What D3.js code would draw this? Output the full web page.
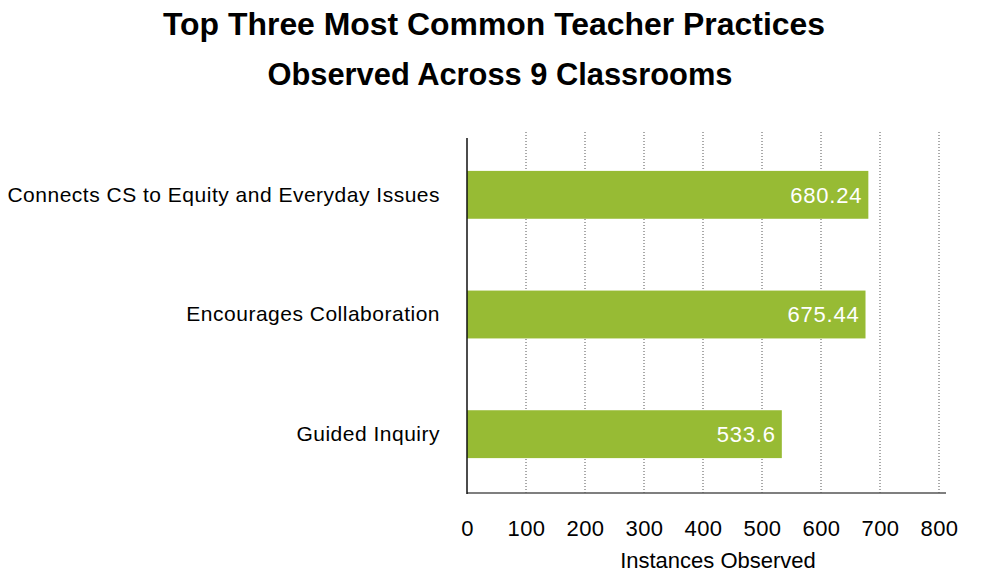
<!DOCTYPE html>
<html>
<head>
<meta charset="utf-8">
<script src="https://cdn.jsdelivr.net/npm/d3@7"></script>
<style>
  body { margin: 0; background: #fff; }
  text { font-family: "Liberation Sans", Arial, sans-serif; }
  .title { font-family: "Liberation Sans", Arial, sans-serif; font-weight: bold; }
</style>
</head>
<body>
<svg id="chart" width="989" height="581"></svg>
<script>
// chart data
var categories = ["Connects CS to Equity and Everyday Issues", "Encourages Collaboration", "Guided Inquiry"];
var values = [680.24, 675.44, 533.6];
var tickValues = [0, 100, 200, 300, 400, 500, 600, 700, 800];
var titleLines = ["Top Three Most Common Teacher Practices", "Observed Across 9 Classrooms"];
var xTitle = "Instances Observed";

var svg = d3.select("#chart");

var x = d3.scaleLinear().domain([0, 800]).range([467, 939]);
var y = d3.scaleBand()
  .domain(categories)
  .range([135, 494])
  .paddingInner(0.6)
  .paddingOuter(0.3);

// title, squeezed to look like the condensed face of the original
var titleX = [494, 500];
var titleW = [662, 465];
svg.selectAll(".title")
  .data(titleLines)
  .enter()
  .append("text")
  .attr("class", "title")
  .attr("x", function (d, i) { return titleX[i]; })
  .attr("y", function (d, i) { return 35 + i * 50; })
  .attr("text-anchor", "middle")
  .attr("font-size", 32)
  .attr("textLength", function (d, i) { return titleW[i]; })
  .attr("lengthAdjust", "spacingAndGlyphs")
  .attr("fill", "#000")
  .text(function (d) { return d; });

// dotted grid lines
svg.append("g")
  .selectAll("line")
  .data(tickValues.slice(1))
  .enter()
  .append("line")
  .attr("x1", function (d) { return x(d); })
  .attr("x2", function (d) { return x(d); })
  .attr("y1", 132)
  .attr("y2", 493)
  .attr("stroke", "#555")
  .attr("stroke-width", 1)
  .attr("stroke-dasharray", "1,2");

// bars
svg.append("g")
  .selectAll("rect")
  .data(values)
  .enter()
  .append("rect")
  .attr("x", x(0))
  .attr("y", function (d, i) { return y(categories[i]); })
  .attr("width", function (d) { return x(d) - x(0); })
  .attr("height", y.bandwidth())
  .attr("fill", "#97bb34");

// value labels inside bars
svg.append("g")
  .selectAll("text")
  .data(values)
  .enter()
  .append("text")
  .attr("x", function (d) { return x(d) - 6; })
  .attr("y", function (d, i) { return y(categories[i]) + y.bandwidth() / 2; })
  .attr("dy", "0.36em")
  .attr("text-anchor", "end")
  .attr("font-size", 22)
  .attr("letter-spacing", 0.8)
  .attr("fill", "#fff")
  .text(function (d) { return d; });

// x axis
var xAxis = svg.append("g")
  .attr("transform", "translate(0,493)")
  .call(d3.axisBottom(x).tickValues(tickValues).tickSize(0).tickPadding(27).tickFormat(d3.format("d")));
xAxis.select(".domain").attr("stroke", "#555").attr("stroke-width", 1.5)
  .attr("d", "M" + x(0) + ",0H946");
xAxis.selectAll("text").attr("font-size", 22).attr("letter-spacing", 0.5).attr("fill", "#000")
  .style("font-family", "'Liberation Sans', Arial, sans-serif");

// y axis
var yAxis = svg.append("g")
  .attr("transform", "translate(" + x(0) + ",0)")
  .call(d3.axisLeft(y).tickSize(0).tickPadding(27));
yAxis.select(".domain").attr("stroke", "#111").attr("stroke-width", 1.5)
  .attr("d", "M0,138V494");
yAxis.selectAll("text").attr("font-size", 21).attr("letter-spacing", 0.5).attr("fill", "#000")
  .style("font-family", "'Liberation Sans', Arial, sans-serif");

// axis title
svg.append("text")
  .attr("x", 718)
  .attr("y", 568)
  .attr("text-anchor", "middle")
  .attr("font-size", 22)
  .attr("fill", "#000")
  .text(xTitle);
</script>
</body>
</html>
